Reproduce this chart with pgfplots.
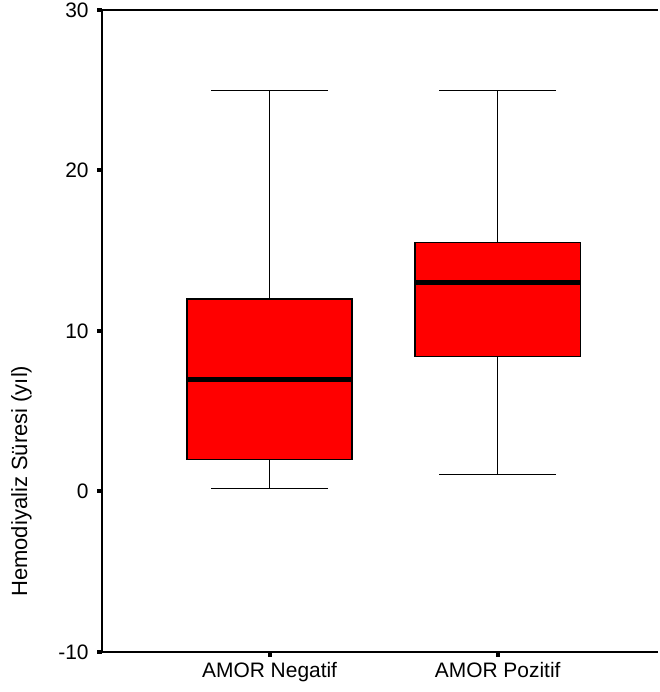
\documentclass[border=0pt]{standalone}
\usepackage{pgfplots}
\pgfplotsset{compat=1.18}
\usepgfplotslibrary{statistics}
\usepackage{fontspec}
\setmainfont{Liberation Sans}
\begin{document}
\begin{tikzpicture}[x=1pt,y=1pt]
\begin{axis}[
  name=ax,
  scale only axis,
  width=417pt, height=481.5pt,
  xmin=0.265, xmax=2.703,
  ymin=-10, ymax=30,
  axis x line=box,
  axis y line=left,
  axis line style={-, line width=1.6pt, black},
  xtick={1,2},
  xticklabels={AMOR Negatif, AMOR Pozitif},
  xtick pos=bottom,
  ytick={-10,0,10,20,30},
  tick align=outside,
  major tick length=3.5pt,
  tick style={line width=3pt, black},
  /pgf/number format/assume math mode=true,
  tick label style={font=\fontsize{15.7}{18}\selectfont},
  xticklabel style={yshift=-1pt},
  yticklabel style={xshift=-3pt},
  ylabel={Hemodiyaliz Süresi (yıl)},
  ylabel style={at={(axis description cs:-0.145,0.266)}, anchor=center, rotate=0, font=\fontsize{16.5}{18}\selectfont},
  clip=false,
  boxplot/draw direction=y,
  boxplot/every median/.style={line width=3.8pt},
  boxplot/every whisker/.style={line width=1.1pt},
  boxplot/every box/.style={line width=1.1pt},
]
\addplot[boxplot prepared={lower whisker=0.2, lower quartile=2.0, median=7.0, upper quartile=12.0, upper whisker=25.0, draw position=1, box extend=0.724, whisker extend=0.513}, fill=red, draw=black] coordinates {};
\addplot[boxplot prepared={lower whisker=1.05, lower quartile=8.4, median=13.0, upper quartile=15.5, upper whisker=25.0, draw position=2, box extend=0.724, whisker extend=0.513}, fill=red, draw=black] coordinates {};
\end{axis}
\pgfresetboundingbox
\path[use as bounding box] ([xshift=-76.5pt,yshift=-30pt]ax.south west) rectangle ([xshift=1.25pt,yshift=7.5pt]ax.north east);
\end{tikzpicture}
\end{document}
